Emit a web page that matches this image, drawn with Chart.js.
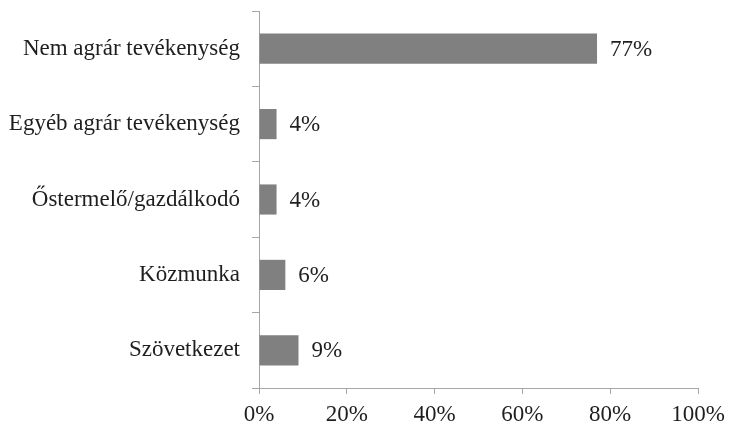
<!DOCTYPE html>
<html>
<head>
<meta charset="utf-8">
<script src="https://cdn.jsdelivr.net/npm/chart.js@4"></script>
<style>
  html, body { margin: 0; padding: 0; background: #fff; }
  #wrap { width: 729px; height: 427px; position: relative; }
</style>
</head>
<body>
<div id="wrap"><canvas id="chartBar"></canvas></div>
<script>
const categories = [
  "Nem agrár tevékenység",
  "Egyéb agrár tevékenység",
  "Őstermelő/gazdálkodó",
  "Közmunka",
  "Szövetkezet",
];
const shares = [77, 4, 4, 6, 9];
const xTicks = [0, 20, 40, 60, 80, 100];

const axisColor = "rgb(166, 166, 166)";
const textColor = "rgb(30, 30, 30)";
const font = { family: "'Liberation Serif', 'Times New Roman', serif", size: 23 };

// percentage label just past the end of each bar
const valueLabels = {
  id: "valueLabels",
  afterDatasetsDraw(chart) {
    const ctx = chart.ctx;
    const meta = chart.getDatasetMeta(0);
    ctx.save();
    ctx.font = font.size + "px " + font.family;
    ctx.fillStyle = textColor;
    ctx.textAlign = "left";
    ctx.textBaseline = "middle";
    meta.data.forEach((bar, i) => {
      ctx.fillText(shares[i] + "%", bar.x + 13, bar.y + 1);
    });
    ctx.restore();
  },
};

const chartBar = new Chart("chartBar", {
  type: "bar",
  data: {
    labels: categories,
    datasets: [
      {
        label: "",
        data: shares,
        backgroundColor: "rgb(128, 128, 128)",
        borderWidth: 0,
        barPercentage: 0.4,
        categoryPercentage: 1,
      },
    ],
  },
  plugins: [valueLabels],
  options: {
    indexAxis: "y",
    responsive: true,
    maintainAspectRatio: false,
    animation: false,
    layout: { padding: { top: 11, right: 31, left: 0, bottom: 0 } },
    plugins: {
      legend: { display: false },
      tooltip: { enabled: false },
    },
    scales: {
      y: {
        afterFit(scale) {
          scale.width = 259;
          scale.paddingTop = 0;
          scale.paddingBottom = 0;
        },
        grid: {
          display: true,
          offset: true,
          drawOnChartArea: false,
          drawTicks: true,
          tickLength: 7,
          color: axisColor,
        },
        border: { display: true, color: axisColor, width: 1 },
        ticks: { color: textColor, font: font, padding: 12 },
      },
      x: {
        min: 0,
        max: 100,
        afterFit(scale) {
          scale.height = 39;
          scale.paddingLeft = 0;
          scale.paddingRight = 0;
        },
        afterBuildTicks(scale) {
          scale.ticks = xTicks.map((v) => ({ value: v }));
        },
        grid: {
          display: true,
          drawOnChartArea: false,
          drawTicks: true,
          tickLength: 6,
          color: axisColor,
        },
        border: { display: true, color: axisColor, width: 1 },
        ticks: {
          color: textColor,
          font: font,
          padding: 7,
          callback: (v) => v + "%",
        },
      },
    },
  },
});
</script>
</body>
</html>
